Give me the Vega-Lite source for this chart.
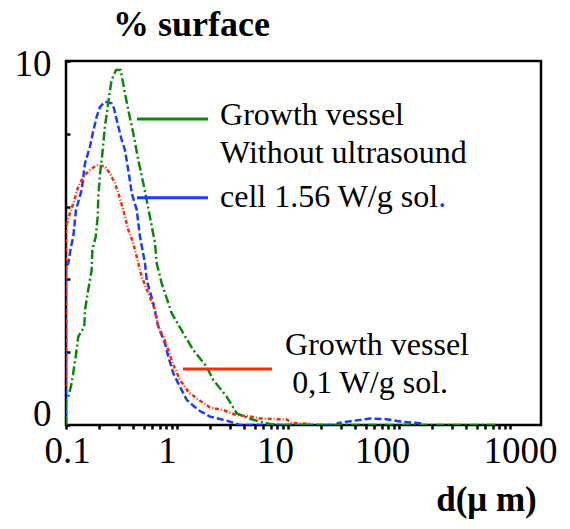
{
  "$schema": "https://vega.github.io/schema/vega-lite/v6.json",
  "width": 475,
  "height": 364,
  "autosize": {"type": "none"},
  "padding": {"left": 66, "top": 61, "right": 29, "bottom": 104},
  "background": "white",
  "config": {
    "view": {"stroke": "black", "strokeWidth": 2.5},
    "font": "Liberation Serif, Times New Roman, serif"
  },
  "datasets": {
    "curves": [
      {"series": "Cell 1.56 W/g sol.", "d": 0.1, "pct": 0},
      {"series": "Cell 1.56 W/g sol.", "d": 0.1, "pct": 4.35},
      {"series": "Cell 1.56 W/g sol.", "d": 0.1049, "pct": 4.44},
      {"series": "Cell 1.56 W/g sol.", "d": 0.1109, "pct": 4.9},
      {"series": "Cell 1.56 W/g sol.", "d": 0.1163, "pct": 5.17},
      {"series": "Cell 1.56 W/g sol.", "d": 0.123, "pct": 5.91},
      {"series": "Cell 1.56 W/g sol.", "d": 0.1385, "pct": 6.46},
      {"series": "Cell 1.56 W/g sol.", "d": 0.1432, "pct": 6.82},
      {"series": "Cell 1.56 W/g sol.", "d": 0.1483, "pct": 7.19},
      {"series": "Cell 1.56 W/g sol.", "d": 0.1645, "pct": 7.65},
      {"series": "Cell 1.56 W/g sol.", "d": 0.174, "pct": 8.01},
      {"series": "Cell 1.56 W/g sol.", "d": 0.189, "pct": 8.47},
      {"series": "Cell 1.56 W/g sol.", "d": 0.2025, "pct": 8.74},
      {"series": "Cell 1.56 W/g sol.", "d": 0.2246, "pct": 8.88},
      {"series": "Cell 1.56 W/g sol.", "d": 0.258, "pct": 8.84},
      {"series": "Cell 1.56 W/g sol.", "d": 0.2706, "pct": 8.7},
      {"series": "Cell 1.56 W/g sol.", "d": 0.2959, "pct": 8.2},
      {"series": "Cell 1.56 W/g sol.", "d": 0.3175, "pct": 7.83},
      {"series": "Cell 1.56 W/g sol.", "d": 0.34, "pct": 7.55},
      {"series": "Cell 1.56 W/g sol.", "d": 0.3718, "pct": 6.82},
      {"series": "Cell 1.56 W/g sol.", "d": 0.3908, "pct": 6.37},
      {"series": "Cell 1.56 W/g sol.", "d": 0.4335, "pct": 5.91},
      {"series": "Cell 1.56 W/g sol.", "d": 0.4642, "pct": 5.17},
      {"series": "Cell 1.56 W/g sol.", "d": 0.5149, "pct": 4.44},
      {"series": "Cell 1.56 W/g sol.", "d": 0.5334, "pct": 3.98},
      {"series": "Cell 1.56 W/g sol.", "d": 0.6116, "pct": 3.34},
      {"series": "Cell 1.56 W/g sol.", "d": 0.6784, "pct": 2.7},
      {"series": "Cell 1.56 W/g sol.", "d": 0.7798, "pct": 2.24},
      {"series": "Cell 1.56 W/g sol.", "d": 0.835, "pct": 1.88},
      {"series": "Cell 1.56 W/g sol.", "d": 0.926, "pct": 1.42},
      {"series": "Cell 1.56 W/g sol.", "d": 1.064, "pct": 1.05},
      {"series": "Cell 1.56 W/g sol.", "d": 1.223, "pct": 0.69},
      {"series": "Cell 1.56 W/g sol.", "d": 1.556, "pct": 0.41},
      {"series": "Cell 1.56 W/g sol.", "d": 1.983, "pct": 0.23},
      {"series": "Cell 1.56 W/g sol.", "d": 2.8, "pct": 0.12},
      {"series": "Cell 1.56 W/g sol.", "d": 3.7, "pct": 0},
      {"series": "Cell 1.56 W/g sol.", "d": 27.5, "pct": 0},
      {"series": "Cell 1.56 W/g sol.", "d": 28.2, "pct": 0.05},
      {"series": "Cell 1.56 W/g sol.", "d": 33.8, "pct": 0.09},
      {"series": "Cell 1.56 W/g sol.", "d": 49.4, "pct": 0.16},
      {"series": "Cell 1.56 W/g sol.", "d": 54.8, "pct": 0.18},
      {"series": "Cell 1.56 W/g sol.", "d": 77.5, "pct": 0.16},
      {"series": "Cell 1.56 W/g sol.", "d": 105.7, "pct": 0.09},
      {"series": "Cell 1.56 W/g sol.", "d": 154.6, "pct": 0.05},
      {"series": "Cell 1.56 W/g sol.", "d": 160, "pct": 0},
      {"series": "Growth vessel 0,1 W/g sol.", "d": 0.1, "pct": 1.05},
      {"series": "Growth vessel 0,1 W/g sol.", "d": 0.1, "pct": 5.45},
      {"series": "Growth vessel 0,1 W/g sol.", "d": 0.1086, "pct": 5.82},
      {"series": "Growth vessel 0,1 W/g sol.", "d": 0.1163, "pct": 6.09},
      {"series": "Growth vessel 0,1 W/g sol.", "d": 0.1291, "pct": 6.55},
      {"series": "Growth vessel 0,1 W/g sol.", "d": 0.1432, "pct": 6.82},
      {"series": "Growth vessel 0,1 W/g sol.", "d": 0.1645, "pct": 7.01},
      {"series": "Growth vessel 0,1 W/g sol.", "d": 0.189, "pct": 7.14},
      {"series": "Growth vessel 0,1 W/g sol.", "d": 0.2246, "pct": 7.1},
      {"series": "Growth vessel 0,1 W/g sol.", "d": 0.2491, "pct": 6.91},
      {"series": "Growth vessel 0,1 W/g sol.", "d": 0.2764, "pct": 6.64},
      {"series": "Growth vessel 0,1 W/g sol.", "d": 0.2959, "pct": 6.37},
      {"series": "Growth vessel 0,1 W/g sol.", "d": 0.3282, "pct": 5.91},
      {"series": "Growth vessel 0,1 W/g sol.", "d": 0.3641, "pct": 5.36},
      {"series": "Growth vessel 0,1 W/g sol.", "d": 0.4039, "pct": 4.99},
      {"series": "Growth vessel 0,1 W/g sol.", "d": 0.4335, "pct": 4.62},
      {"series": "Growth vessel 0,1 W/g sol.", "d": 0.4809, "pct": 4.07},
      {"series": "Growth vessel 0,1 W/g sol.", "d": 0.5513, "pct": 3.62},
      {"series": "Growth vessel 0,1 W/g sol.", "d": 0.6336, "pct": 3.16},
      {"series": "Growth vessel 0,1 W/g sol.", "d": 0.6784, "pct": 2.7},
      {"series": "Growth vessel 0,1 W/g sol.", "d": 0.7527, "pct": 2.43},
      {"series": "Growth vessel 0,1 W/g sol.", "d": 0.835, "pct": 2.06},
      {"series": "Growth vessel 0,1 W/g sol.", "d": 0.926, "pct": 1.65},
      {"series": "Growth vessel 0,1 W/g sol.", "d": 1.064, "pct": 1.24},
      {"series": "Growth vessel 0,1 W/g sol.", "d": 1.264, "pct": 0.91},
      {"series": "Growth vessel 0,1 W/g sol.", "d": 1.505, "pct": 0.73},
      {"series": "Growth vessel 0,1 W/g sol.", "d": 1.983, "pct": 0.48},
      {"series": "Growth vessel 0,1 W/g sol.", "d": 2.61, "pct": 0.41},
      {"series": "Growth vessel 0,1 W/g sol.", "d": 3.45, "pct": 0.27},
      {"series": "Growth vessel 0,1 W/g sol.", "d": 4.25, "pct": 0.25},
      {"series": "Growth vessel 0,1 W/g sol.", "d": 5.59, "pct": 0.18},
      {"series": "Growth vessel 0,1 W/g sol.", "d": 7.91, "pct": 0.16},
      {"series": "Growth vessel 0,1 W/g sol.", "d": 9.73, "pct": 0.15},
      {"series": "Growth vessel 0,1 W/g sol.", "d": 10.8, "pct": 0.06},
      {"series": "Growth vessel 0,1 W/g sol.", "d": 15.8, "pct": 0.03},
      {"series": "Growth vessel 0,1 W/g sol.", "d": 16.4, "pct": 0},
      {"series": "Growth vessel without ultrasound", "d": 0.1, "pct": 0},
      {"series": "Growth vessel without ultrasound", "d": 0.1, "pct": 0.69},
      {"series": "Growth vessel without ultrasound", "d": 0.1049, "pct": 0.78},
      {"series": "Growth vessel without ultrasound", "d": 0.1126, "pct": 1.15},
      {"series": "Growth vessel without ultrasound", "d": 0.1223, "pct": 1.88},
      {"series": "Growth vessel without ultrasound", "d": 0.1291, "pct": 2.43},
      {"series": "Growth vessel without ultrasound", "d": 0.1462, "pct": 2.7},
      {"series": "Growth vessel without ultrasound", "d": 0.1483, "pct": 3.16},
      {"series": "Growth vessel without ultrasound", "d": 0.1569, "pct": 3.63},
      {"series": "Growth vessel without ultrasound", "d": 0.1704, "pct": 4.26},
      {"series": "Growth vessel without ultrasound", "d": 0.1726, "pct": 4.81},
      {"series": "Growth vessel without ultrasound", "d": 0.1852, "pct": 5.17},
      {"series": "Growth vessel without ultrasound", "d": 0.193, "pct": 5.72},
      {"series": "Growth vessel without ultrasound", "d": 0.1954, "pct": 6.27},
      {"series": "Growth vessel without ultrasound", "d": 0.2025, "pct": 6.9},
      {"series": "Growth vessel without ultrasound", "d": 0.2097, "pct": 7.28},
      {"series": "Growth vessel without ultrasound", "d": 0.2246, "pct": 8.2},
      {"series": "Growth vessel without ultrasound", "d": 0.2491, "pct": 9.2},
      {"series": "Growth vessel without ultrasound", "d": 0.258, "pct": 9.48},
      {"series": "Growth vessel without ultrasound", "d": 0.282, "pct": 9.75},
      {"series": "Growth vessel without ultrasound", "d": 0.311, "pct": 9.75},
      {"series": "Growth vessel without ultrasound", "d": 0.34, "pct": 9.11},
      {"series": "Growth vessel without ultrasound", "d": 0.364, "pct": 8.65},
      {"series": "Growth vessel without ultrasound", "d": 0.404, "pct": 8.01},
      {"series": "Growth vessel without ultrasound", "d": 0.448, "pct": 7.28},
      {"series": "Growth vessel without ultrasound", "d": 0.497, "pct": 6.64},
      {"series": "Growth vessel without ultrasound", "d": 0.533, "pct": 6.18},
      {"series": "Growth vessel without ultrasound", "d": 0.634, "pct": 4.99},
      {"series": "Growth vessel without ultrasound", "d": 0.656, "pct": 4.44},
      {"series": "Growth vessel without ultrasound", "d": 0.728, "pct": 3.89},
      {"series": "Growth vessel without ultrasound", "d": 0.896, "pct": 3.07},
      {"series": "Growth vessel without ultrasound", "d": 1.14, "pct": 2.52},
      {"series": "Growth vessel without ultrasound", "d": 1.4, "pct": 2.06},
      {"series": "Growth vessel without ultrasound", "d": 1.85, "pct": 1.6},
      {"series": "Growth vessel without ultrasound", "d": 2.12, "pct": 1.24},
      {"series": "Growth vessel without ultrasound", "d": 2.8, "pct": 0.78},
      {"series": "Growth vessel without ultrasound", "d": 3.45, "pct": 0.32},
      {"series": "Growth vessel without ultrasound", "d": 4.55, "pct": 0.17},
      {"series": "Growth vessel without ultrasound", "d": 5.59, "pct": 0.09},
      {"series": "Growth vessel without ultrasound", "d": 6.88, "pct": 0.03},
      {"series": "Growth vessel without ultrasound", "d": 8.47, "pct": 0},
      {"series": "Growth vessel without ultrasound", "d": 780, "pct": 0}
    ],
    "keylines": [
      {"series": "Growth vessel without ultrasound", "d1": 0.436, "d2": 1.9, "pct": 8.41},
      {"series": "Cell 1.56 W/g sol.", "d1": 0.436, "d2": 1.9, "pct": 6.24},
      {"series": "Growth vessel 0,1 W/g sol.", "d1": 1.13, "d2": 7.18, "pct": 1.54}
    ],
    "notes": [
      {"text": "Growth vessel", "d": 2.44, "pct": 8.24, "kind": "text"},
      {"text": "Without ultrasound", "d": 2.44, "pct": 7.2, "kind": "text"},
      {"text": "cell 1.56 W/g sol", "d": 2.44, "pct": 5.99, "kind": "text"},
      {"text": ".", "d": 226, "pct": 5.99, "kind": "dot"},
      {"text": "Growth vessel", "d": 9.4, "pct": 1.92, "kind": "text"},
      {"text": "0,1 W/g sol.", "d": 10.9, "pct": 0.88, "kind": "text"}
    ]
  },
  "layer": [
    {
      "data": {"name": "curves"},
      "mark": {"type": "line", "strokeWidth": 2.5, "clip": true},
      "encoding": {
        "x": {
          "field": "d",
          "type": "quantitative",
          "scale": {"type": "log", "domain": [0.1, 1900], "nice": false},
          "axis": {
            "values": [0.1, 0.2, 0.3, 0.4, 0.5, 0.6, 0.7, 0.8, 0.9, 1, 2, 3, 4, 5, 6, 7, 8, 9, 10, 20, 30, 40, 50, 60, 70, 80, 90, 100, 200, 300, 400, 500, 600, 700, 800, 900, 1000],
            "labelExpr": "datum.value == 0.1 ? '0.1' : datum.value == 1 ? '1' : datum.value == 10 ? '10' : datum.value == 100 ? '100' : datum.value == 1000 ? '1000' : ''",
            "labelOverlap": false,
            "labelFlush": false,
            "labelBound": false,
            "labelFont": "Liberation Serif, Times New Roman, serif",
            "labelFontSize": 37,
            "labelColor": "black",
            "labelBaseline": "alphabetic",
            "labelPadding": 33,
            "labelOffset": {
              "condition": [
                {"test": "datum.value == 1", "value": -10},
                {"test": "datum.value == 10", "value": -13},
                {"test": "datum.value == 100", "value": -17},
                {"test": "datum.value == 1000", "value": 10}
              ],
              "value": 1
            },
            "grid": false,
            "domain": false,
            "ticks": true,
            "tickSize": 4,
            "tickWidth": 2.5,
            "tickColor": "black",
            "title": "d(μ m)",
            "titleFont": "Liberation Serif, Times New Roman, serif",
            "titleFontSize": 35,
            "titleFontWeight": "bold",
            "titleColor": "black",
            "titleX": 420,
            "titleY": 85,
            "titleAlign": "center",
            "titleBaseline": "alphabetic"
          }
        },
        "y": {
          "field": "pct",
          "type": "quantitative",
          "scale": {"domain": [0, 10], "nice": false, "zero": true},
          "axis": {
            "values": [0, 1, 2, 3, 4, 5, 6, 7, 8, 9, 10],
            "labelExpr": "datum.value == 0 ? '0' : datum.value == 10 ? '10' : ''",
            "labelOverlap": false,
            "labelFlush": false,
            "labelBound": false,
            "labelFont": "Liberation Serif, Times New Roman, serif",
            "labelFontSize": 37,
            "labelColor": "black",
            "labelBaseline": "middle",
            "labelPadding": 19,
            "labelOffset": {
              "condition": {"test": "datum.value == 0", "value": -11},
              "value": 3
            },
            "grid": false,
            "domain": false,
            "tickSize": -4,
            "tickWidth": 2.5,
            "tickColor": "black",
            "title": "% surface",
            "titleFont": "Liberation Serif, Times New Roman, serif",
            "titleFontSize": 36,
            "titleFontWeight": "bold",
            "titleColor": "black",
            "titleAngle": 0,
            "titleX": 125,
            "titleY": -26,
            "titleAlign": "center",
            "titleBaseline": "alphabetic"
          }
        },
        "color": {
          "field": "series",
          "type": "nominal",
          "scale": {
            "domain": ["Cell 1.56 W/g sol.", "Growth vessel 0,1 W/g sol.", "Growth vessel without ultrasound"],
            "range": ["#1a3cff", "#ff2a00", "#0a880a"]
          },
          "legend": null
        },
        "strokeDash": {
          "field": "series",
          "type": "nominal",
          "scale": {
            "domain": ["Cell 1.56 W/g sol.", "Growth vessel 0,1 W/g sol.", "Growth vessel without ultrasound"],
            "range": [[7, 3], [4, 2, 1, 2], [9, 3, 2, 3]]
          },
          "legend": null
        }
      }
    },
    {
      "data": {"name": "keylines"},
      "mark": {"type": "rule", "strokeWidth": 3},
      "encoding": {
        "x": {"field": "d1", "type": "quantitative"},
        "x2": {"field": "d2"},
        "y": {"field": "pct", "type": "quantitative"},
        "color": {"field": "series", "type": "nominal", "legend": null}
      }
    },
    {
      "data": {"name": "notes"},
      "mark": {"type": "text", "align": "left", "baseline": "alphabetic", "font": "Liberation Serif, Times New Roman, serif", "fontSize": 32},
      "encoding": {
        "x": {"field": "d", "type": "quantitative"},
        "y": {"field": "pct", "type": "quantitative"},
        "text": {"field": "text"},
        "color": {"condition": {"test": "datum.kind == 'dot'", "value": "#1a3cff"}, "value": "black"}
      }
    }
  ]
}
